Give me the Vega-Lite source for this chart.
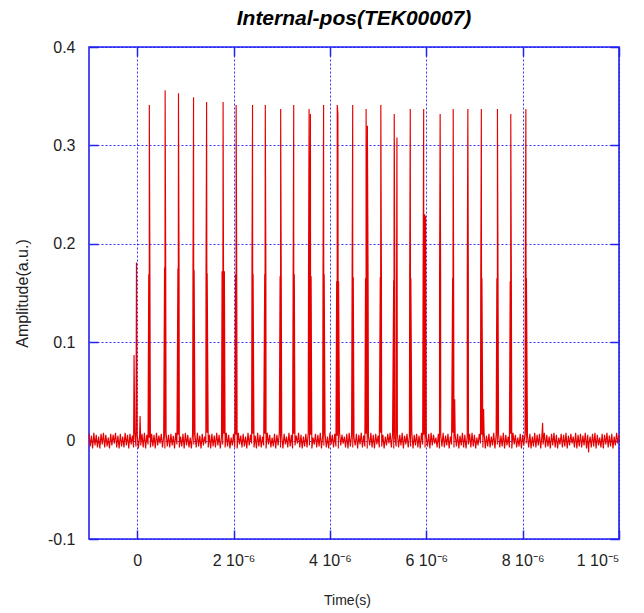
{
  "$schema": "https://vega.github.io/schema/vega-lite/v6.json",
  "width": 530,
  "height": 492,
  "autosize": {"type": "none"},
  "padding": {"left": 89, "top": 47, "right": 25, "bottom": 74},
  "background": "white",
  "title": {
    "text": "Internal-pos(TEK00007)",
    "font": "Liberation Sans",
    "fontSize": 21,
    "fontWeight": "bold",
    "fontStyle": "italic",
    "color": "#000000",
    "anchor": "middle",
    "offset": 10
  },
  "datasets": {
    "trace": [
      {"time_us": -1.000, "amp": 0.007}, {"time_us": -0.975, "amp": -0.006},
      {"time_us": -0.950, "amp": 0.005}, {"time_us": -0.925, "amp": -0.008},
      {"time_us": -0.900, "amp": 0.008}, {"time_us": -0.875, "amp": -0.005},
      {"time_us": -0.850, "amp": 0.006}, {"time_us": -0.825, "amp": -0.007},
      {"time_us": -0.800, "amp": 0.004}, {"time_us": -0.775, "amp": -0.008},
      {"time_us": -0.750, "amp": 0.007}, {"time_us": -0.725, "amp": -0.004},
      {"time_us": -0.700, "amp": 0.008}, {"time_us": -0.675, "amp": -0.007},
      {"time_us": -0.650, "amp": 0.006}, {"time_us": -0.625, "amp": -0.006},
      {"time_us": -0.600, "amp": 0.003}, {"time_us": -0.575, "amp": -0.008},
      {"time_us": -0.550, "amp": 0.007}, {"time_us": -0.525, "amp": -0.005},
      {"time_us": -0.500, "amp": 0.006}, {"time_us": -0.475, "amp": -0.003},
      {"time_us": -0.450, "amp": 0.008}, {"time_us": -0.425, "amp": -0.007},
      {"time_us": -0.400, "amp": 0.005}, {"time_us": -0.375, "amp": -0.008},
      {"time_us": -0.350, "amp": 0.007}, {"time_us": -0.325, "amp": -0.006},
      {"time_us": -0.300, "amp": 0.004}, {"time_us": -0.275, "amp": -0.007},
      {"time_us": -0.250, "amp": 0.008}, {"time_us": -0.225, "amp": -0.005},
      {"time_us": -0.200, "amp": 0.006}, {"time_us": -0.175, "amp": -0.008},
      {"time_us": -0.150, "amp": 0.007}, {"time_us": -0.125, "amp": -0.004},
      {"time_us": -0.100, "amp": 0.005}, {"time_us": -0.075, "amp": -0.007},
      {"time_us": -0.050, "amp": 0.008}, {"time_us": -0.025, "amp": -0.006},
      {"time_us": 0.000, "amp": 0.006}, {"time_us": 0.025, "amp": -0.008},
      {"time_us": 0.050, "amp": 0.004}, {"time_us": 0.075, "amp": -0.005},
      {"time_us": 0.100, "amp": 0.007}, {"time_us": 0.125, "amp": -0.007},
      {"time_us": 0.150, "amp": 0.008}, {"time_us": 0.175, "amp": -0.008},
      {"time_us": 0.200, "amp": 0.006}, {"time_us": 0.225, "amp": -0.004},
      {"time_us": 0.250, "amp": 0.003}, {"time_us": 0.275, "amp": -0.007},
      {"time_us": 0.300, "amp": 0.007}, {"time_us": 0.325, "amp": -0.006},
      {"time_us": 0.350, "amp": 0.006}, {"time_us": 0.375, "amp": -0.008},
      {"time_us": 0.400, "amp": 0.008}, {"time_us": 0.425, "amp": -0.005},
      {"time_us": 0.450, "amp": 0.005}, {"time_us": 0.475, "amp": -0.003},
      {"time_us": 0.500, "amp": 0.007}, {"time_us": 0.525, "amp": -0.007},
      {"time_us": 0.550, "amp": 0.004}, {"time_us": 0.575, "amp": -0.008},
      {"time_us": 0.600, "amp": 0.008}, {"time_us": 0.625, "amp": -0.006},
      {"time_us": 0.650, "amp": 0.006}, {"time_us": 0.675, "amp": -0.007},
      {"time_us": 0.700, "amp": 0.007}, {"time_us": 0.725, "amp": -0.005},
      {"time_us": 0.750, "amp": 0.005}, {"time_us": 0.775, "amp": -0.008},
      {"time_us": 0.800, "amp": 0.008}, {"time_us": 0.825, "amp": -0.004},
      {"time_us": 0.850, "amp": 0.006}, {"time_us": 0.875, "amp": -0.007},
      {"time_us": 0.900, "amp": 0.004}, {"time_us": 0.925, "amp": -0.006},
      {"time_us": 0.950, "amp": 0.007}, {"time_us": 0.975, "amp": -0.008},
      {"time_us": 1.000, "amp": 0.008}, {"time_us": 1.025, "amp": -0.005},
      {"time_us": 1.050, "amp": 0.006}, {"time_us": 1.075, "amp": -0.007},
      {"time_us": 1.100, "amp": 0.003}, {"time_us": 1.125, "amp": -0.008},
      {"time_us": 1.150, "amp": 0.007}, {"time_us": 1.175, "amp": -0.004},
      {"time_us": 1.200, "amp": 0.006}, {"time_us": 1.225, "amp": -0.007},
      {"time_us": 1.250, "amp": 0.008}, {"time_us": 1.275, "amp": -0.006},
      {"time_us": 1.300, "amp": 0.005}, {"time_us": 1.325, "amp": -0.008},
      {"time_us": 1.350, "amp": 0.007}, {"time_us": 1.375, "amp": -0.005},
      {"time_us": 1.400, "amp": 0.004}, {"time_us": 1.425, "amp": -0.003},
      {"time_us": 1.450, "amp": 0.008}, {"time_us": 1.475, "amp": -0.007},
      {"time_us": 1.500, "amp": 0.006}, {"time_us": 1.525, "amp": -0.008},
      {"time_us": 1.550, "amp": 0.007}, {"time_us": 1.575, "amp": -0.006},
      {"time_us": 1.600, "amp": 0.005}, {"time_us": 1.625, "amp": -0.007},
      {"time_us": 1.650, "amp": 0.008}, {"time_us": 1.675, "amp": -0.005},
      {"time_us": 1.700, "amp": 0.006}, {"time_us": 1.725, "amp": -0.008},
      {"time_us": 1.750, "amp": 0.004}, {"time_us": 1.775, "amp": -0.004},
      {"time_us": 1.800, "amp": 0.007}, {"time_us": 1.825, "amp": -0.007},
      {"time_us": 1.850, "amp": 0.008}, {"time_us": 1.875, "amp": -0.006},
      {"time_us": 1.900, "amp": 0.006}, {"time_us": 1.925, "amp": -0.008},
      {"time_us": 1.950, "amp": 0.003}, {"time_us": 1.975, "amp": -0.005},
      {"time_us": 2.000, "amp": 0.007}, {"time_us": 2.025, "amp": -0.007},
      {"time_us": 2.050, "amp": 0.006}, {"time_us": 2.075, "amp": -0.008},
      {"time_us": 2.100, "amp": 0.008}, {"time_us": 2.125, "amp": -0.004},
      {"time_us": 2.150, "amp": 0.005}, {"time_us": 2.175, "amp": -0.007},
      {"time_us": 2.200, "amp": 0.007}, {"time_us": 2.225, "amp": -0.006},
      {"time_us": 2.250, "amp": 0.004}, {"time_us": 2.275, "amp": -0.008},
      {"time_us": 2.300, "amp": 0.008}, {"time_us": 2.325, "amp": -0.005},
      {"time_us": 2.350, "amp": 0.006}, {"time_us": 2.375, "amp": -0.003},
      {"time_us": 2.400, "amp": 0.007}, {"time_us": 2.425, "amp": -0.007},
      {"time_us": 2.450, "amp": 0.005}, {"time_us": 2.475, "amp": -0.008},
      {"time_us": 2.500, "amp": 0.008}, {"time_us": 2.525, "amp": -0.006},
      {"time_us": 2.550, "amp": 0.006}, {"time_us": 2.575, "amp": -0.007},
      {"time_us": 2.600, "amp": 0.004}, {"time_us": 2.625, "amp": -0.005},
      {"time_us": 2.650, "amp": 0.007}, {"time_us": 2.675, "amp": -0.008},
      {"time_us": 2.700, "amp": 0.008}, {"time_us": 2.725, "amp": -0.004},
      {"time_us": 2.750, "amp": 0.006}, {"time_us": 2.775, "amp": -0.007},
      {"time_us": 2.800, "amp": 0.003}, {"time_us": 2.825, "amp": -0.006},
      {"time_us": 2.850, "amp": 0.007}, {"time_us": 2.875, "amp": -0.008},
      {"time_us": 2.900, "amp": 0.006}, {"time_us": 2.925, "amp": -0.005},
      {"time_us": 2.950, "amp": 0.008}, {"time_us": 2.975, "amp": -0.007},
      {"time_us": 3.000, "amp": 0.005}, {"time_us": 3.025, "amp": -0.008},
      {"time_us": 3.050, "amp": 0.007}, {"time_us": 3.075, "amp": -0.004},
      {"time_us": 3.100, "amp": 0.004}, {"time_us": 3.125, "amp": -0.007},
      {"time_us": 3.150, "amp": 0.008}, {"time_us": 3.175, "amp": -0.006},
      {"time_us": 3.200, "amp": 0.006}, {"time_us": 3.225, "amp": -0.008},
      {"time_us": 3.250, "amp": 0.007}, {"time_us": 3.275, "amp": -0.005},
      {"time_us": 3.300, "amp": 0.005}, {"time_us": 3.325, "amp": -0.003},
      {"time_us": 3.350, "amp": 0.008}, {"time_us": 3.375, "amp": -0.007},
      {"time_us": 3.400, "amp": 0.006}, {"time_us": 3.425, "amp": -0.008},
      {"time_us": 3.450, "amp": 0.004}, {"time_us": 3.475, "amp": -0.006},
      {"time_us": 3.500, "amp": 0.007}, {"time_us": 3.525, "amp": -0.007},
      {"time_us": 3.550, "amp": 0.008}, {"time_us": 3.575, "amp": -0.005},
      {"time_us": 3.600, "amp": 0.006}, {"time_us": 3.625, "amp": -0.008},
      {"time_us": 3.650, "amp": 0.003}, {"time_us": 3.675, "amp": -0.004},
      {"time_us": 3.700, "amp": 0.007}, {"time_us": 3.725, "amp": -0.007},
      {"time_us": 3.750, "amp": 0.006}, {"time_us": 3.775, "amp": -0.006},
      {"time_us": 3.800, "amp": 0.008}, {"time_us": 3.825, "amp": -0.008},
      {"time_us": 3.850, "amp": 0.005}, {"time_us": 3.875, "amp": -0.005},
      {"time_us": 3.900, "amp": 0.007}, {"time_us": 3.925, "amp": -0.007},
      {"time_us": 3.950, "amp": 0.004}, {"time_us": 3.975, "amp": -0.008},
      {"time_us": 4.000, "amp": 0.008}, {"time_us": 4.025, "amp": -0.004},
      {"time_us": 4.050, "amp": 0.006}, {"time_us": 4.075, "amp": -0.007},
      {"time_us": 4.100, "amp": 0.007}, {"time_us": 4.125, "amp": -0.006},
      {"time_us": 4.150, "amp": 0.005}, {"time_us": 4.175, "amp": -0.008},
      {"time_us": 4.200, "amp": 0.008}, {"time_us": 4.225, "amp": -0.005},
      {"time_us": 4.250, "amp": 0.006}, {"time_us": 4.275, "amp": -0.003},
      {"time_us": 4.300, "amp": 0.004}, {"time_us": 4.325, "amp": -0.007},
      {"time_us": 4.350, "amp": 0.007}, {"time_us": 4.375, "amp": -0.008},
      {"time_us": 4.400, "amp": 0.008}, {"time_us": 4.425, "amp": -0.006},
      {"time_us": 4.450, "amp": 0.006}, {"time_us": 4.475, "amp": -0.007},
      {"time_us": 4.500, "amp": 0.003}, {"time_us": 4.525, "amp": -0.005},
      {"time_us": 4.550, "amp": 0.007}, {"time_us": 4.575, "amp": -0.008},
      {"time_us": 4.600, "amp": 0.006}, {"time_us": 4.625, "amp": -0.004},
      {"time_us": 4.650, "amp": 0.008}, {"time_us": 4.675, "amp": -0.007},
      {"time_us": 4.700, "amp": 0.005}, {"time_us": 4.725, "amp": -0.006},
      {"time_us": 4.750, "amp": 0.007}, {"time_us": 4.775, "amp": -0.008},
      {"time_us": 4.800, "amp": 0.004}, {"time_us": 4.825, "amp": -0.005},
      {"time_us": 4.850, "amp": 0.008}, {"time_us": 4.875, "amp": -0.007},
      {"time_us": 4.900, "amp": 0.006}, {"time_us": 4.925, "amp": -0.008},
      {"time_us": 4.950, "amp": 0.007}, {"time_us": 4.975, "amp": -0.004},
      {"time_us": 5.000, "amp": 0.005}, {"time_us": 5.025, "amp": -0.007},
      {"time_us": 5.050, "amp": 0.008}, {"time_us": 5.075, "amp": -0.006},
      {"time_us": 5.100, "amp": 0.006}, {"time_us": 5.125, "amp": -0.008},
      {"time_us": 5.150, "amp": 0.004}, {"time_us": 5.175, "amp": -0.005},
      {"time_us": 5.200, "amp": 0.007}, {"time_us": 5.225, "amp": -0.003},
      {"time_us": 5.250, "amp": 0.008}, {"time_us": 5.275, "amp": -0.007},
      {"time_us": 5.300, "amp": 0.006}, {"time_us": 5.325, "amp": -0.008},
      {"time_us": 5.350, "amp": 0.003}, {"time_us": 5.375, "amp": -0.006},
      {"time_us": 5.400, "amp": 0.007}, {"time_us": 5.425, "amp": -0.007},
      {"time_us": 5.450, "amp": 0.006}, {"time_us": 5.475, "amp": -0.005},
      {"time_us": 5.500, "amp": 0.008}, {"time_us": 5.525, "amp": -0.008},
      {"time_us": 5.550, "amp": 0.005}, {"time_us": 5.575, "amp": -0.004},
      {"time_us": 5.600, "amp": 0.007}, {"time_us": 5.625, "amp": -0.007},
      {"time_us": 5.650, "amp": 0.004}, {"time_us": 5.675, "amp": -0.006},
      {"time_us": 5.700, "amp": 0.008}, {"time_us": 5.725, "amp": -0.008},
      {"time_us": 5.750, "amp": 0.006}, {"time_us": 5.775, "amp": -0.005},
      {"time_us": 5.800, "amp": 0.007}, {"time_us": 5.825, "amp": -0.007},
      {"time_us": 5.850, "amp": 0.005}, {"time_us": 5.875, "amp": -0.008},
      {"time_us": 5.900, "amp": 0.008}, {"time_us": 5.925, "amp": -0.004},
      {"time_us": 5.950, "amp": 0.006}, {"time_us": 5.975, "amp": -0.007},
      {"time_us": 6.000, "amp": 0.004}, {"time_us": 6.025, "amp": -0.006},
      {"time_us": 6.050, "amp": 0.007}, {"time_us": 6.075, "amp": -0.008},
      {"time_us": 6.100, "amp": 0.008}, {"time_us": 6.125, "amp": -0.005},
      {"time_us": 6.150, "amp": 0.006}, {"time_us": 6.175, "amp": -0.003},
      {"time_us": 6.200, "amp": 0.003}, {"time_us": 6.225, "amp": -0.007},
      {"time_us": 6.250, "amp": 0.007}, {"time_us": 6.275, "amp": -0.008},
      {"time_us": 6.300, "amp": 0.006}, {"time_us": 6.325, "amp": -0.006},
      {"time_us": 6.350, "amp": 0.008}, {"time_us": 6.375, "amp": -0.007},
      {"time_us": 6.400, "amp": 0.005}, {"time_us": 6.425, "amp": -0.005},
      {"time_us": 6.450, "amp": 0.007}, {"time_us": 6.475, "amp": -0.008},
      {"time_us": 6.500, "amp": 0.004}, {"time_us": 6.525, "amp": -0.004},
      {"time_us": 6.550, "amp": 0.008}, {"time_us": 6.575, "amp": -0.007},
      {"time_us": 6.600, "amp": 0.006}, {"time_us": 6.625, "amp": -0.006},
      {"time_us": 6.650, "amp": 0.007}, {"time_us": 6.675, "amp": -0.008},
      {"time_us": 6.700, "amp": 0.005}, {"time_us": 6.725, "amp": -0.005},
      {"time_us": 6.750, "amp": 0.008}, {"time_us": 6.775, "amp": -0.007},
      {"time_us": 6.800, "amp": 0.006}, {"time_us": 6.825, "amp": -0.008},
      {"time_us": 6.850, "amp": 0.004}, {"time_us": 6.875, "amp": -0.004},
      {"time_us": 6.900, "amp": 0.007}, {"time_us": 6.925, "amp": -0.007},
      {"time_us": 6.950, "amp": 0.008}, {"time_us": 6.975, "amp": -0.006},
      {"time_us": 7.000, "amp": 0.006}, {"time_us": 7.025, "amp": -0.008},
      {"time_us": 7.050, "amp": 0.003}, {"time_us": 7.075, "amp": -0.005},
      {"time_us": 7.100, "amp": 0.007}, {"time_us": 7.125, "amp": -0.003},
      {"time_us": 7.150, "amp": 0.006}, {"time_us": 7.175, "amp": -0.007},
      {"time_us": 7.200, "amp": 0.008}, {"time_us": 7.225, "amp": -0.008},
      {"time_us": 7.250, "amp": 0.005}, {"time_us": 7.275, "amp": -0.006},
      {"time_us": 7.300, "amp": 0.007}, {"time_us": 7.325, "amp": -0.007},
      {"time_us": 7.350, "amp": 0.004}, {"time_us": 7.375, "amp": -0.005},
      {"time_us": 7.400, "amp": 0.008}, {"time_us": 7.425, "amp": -0.008},
      {"time_us": 7.450, "amp": 0.006}, {"time_us": 7.475, "amp": -0.004},
      {"time_us": 7.500, "amp": 0.007}, {"time_us": 7.525, "amp": -0.007},
      {"time_us": 7.550, "amp": 0.005}, {"time_us": 7.575, "amp": -0.006},
      {"time_us": 7.600, "amp": 0.008}, {"time_us": 7.625, "amp": -0.008},
      {"time_us": 7.650, "amp": 0.006}, {"time_us": 7.675, "amp": -0.005},
      {"time_us": 7.700, "amp": 0.004}, {"time_us": 7.725, "amp": -0.007},
      {"time_us": 7.750, "amp": 0.007}, {"time_us": 7.775, "amp": -0.008},
      {"time_us": 7.800, "amp": 0.008}, {"time_us": 7.825, "amp": -0.004},
      {"time_us": 7.850, "amp": 0.006}, {"time_us": 7.875, "amp": -0.007},
      {"time_us": 7.900, "amp": 0.003}, {"time_us": 7.925, "amp": -0.006},
      {"time_us": 7.950, "amp": 0.007}, {"time_us": 7.975, "amp": -0.008},
      {"time_us": 8.000, "amp": 0.006}, {"time_us": 8.025, "amp": -0.005},
      {"time_us": 8.050, "amp": 0.008}, {"time_us": 8.075, "amp": -0.003},
      {"time_us": 8.100, "amp": 0.005}, {"time_us": 8.125, "amp": -0.007},
      {"time_us": 8.150, "amp": 0.007}, {"time_us": 8.175, "amp": -0.008},
      {"time_us": 8.200, "amp": 0.004}, {"time_us": 8.225, "amp": -0.006},
      {"time_us": 8.250, "amp": 0.008}, {"time_us": 8.275, "amp": -0.007},
      {"time_us": 8.300, "amp": 0.006}, {"time_us": 8.325, "amp": -0.005},
      {"time_us": 8.350, "amp": 0.007}, {"time_us": 8.375, "amp": -0.008},
      {"time_us": 8.400, "amp": 0.005}, {"time_us": 8.425, "amp": -0.004},
      {"time_us": 8.450, "amp": 0.008}, {"time_us": 8.475, "amp": -0.007},
      {"time_us": 8.500, "amp": 0.006}, {"time_us": 8.525, "amp": -0.006},
      {"time_us": 8.550, "amp": 0.004}, {"time_us": 8.575, "amp": -0.008},
      {"time_us": 8.600, "amp": 0.007}, {"time_us": 8.625, "amp": -0.005},
      {"time_us": 8.650, "amp": 0.008}, {"time_us": 8.675, "amp": -0.007},
      {"time_us": 8.700, "amp": 0.006}, {"time_us": 8.725, "amp": -0.008},
      {"time_us": 8.750, "amp": 0.003}, {"time_us": 8.775, "amp": -0.004},
      {"time_us": 8.800, "amp": 0.007}, {"time_us": 8.825, "amp": -0.007},
      {"time_us": 8.850, "amp": 0.006}, {"time_us": 8.875, "amp": -0.006},
      {"time_us": 8.900, "amp": 0.008}, {"time_us": 8.925, "amp": -0.008},
      {"time_us": 8.950, "amp": 0.005}, {"time_us": 8.975, "amp": -0.005},
      {"time_us": 9.000, "amp": 0.007}, {"time_us": 9.025, "amp": -0.003},
      {"time_us": 9.050, "amp": 0.004}, {"time_us": 9.075, "amp": -0.007},
      {"time_us": 9.100, "amp": 0.008}, {"time_us": 9.125, "amp": -0.008},
      {"time_us": 9.150, "amp": 0.006}, {"time_us": 9.175, "amp": -0.006},
      {"time_us": 9.200, "amp": 0.007}, {"time_us": 9.225, "amp": -0.007},
      {"time_us": 9.250, "amp": 0.005}, {"time_us": 9.275, "amp": -0.005},
      {"time_us": 9.300, "amp": 0.008}, {"time_us": 9.325, "amp": -0.008},
      {"time_us": 9.350, "amp": 0.006}, {"time_us": 9.375, "amp": -0.004},
      {"time_us": 9.400, "amp": 0.004}, {"time_us": 9.425, "amp": -0.007},
      {"time_us": 9.450, "amp": 0.007}, {"time_us": 9.475, "amp": -0.006},
      {"time_us": 9.500, "amp": 0.008}, {"time_us": 9.525, "amp": -0.008},
      {"time_us": 9.550, "amp": 0.006}, {"time_us": 9.575, "amp": -0.005},
      {"time_us": 9.600, "amp": 0.003}, {"time_us": 9.625, "amp": -0.007},
      {"time_us": 9.650, "amp": 0.007}, {"time_us": 9.675, "amp": -0.008},
      {"time_us": 9.700, "amp": 0.006}, {"time_us": 9.725, "amp": -0.004},
      {"time_us": 9.750, "amp": 0.008}, {"time_us": 9.775, "amp": -0.007},
      {"time_us": 9.800, "amp": 0.005}, {"time_us": 9.825, "amp": -0.006},
      {"time_us": 9.850, "amp": 0.007}, {"time_us": 9.875, "amp": -0.008},
      {"time_us": 9.900, "amp": 0.004}, {"time_us": 9.925, "amp": -0.005},
      {"time_us": 9.950, "amp": 0.008}, {"time_us": 9.975, "amp": -0.003},
      {"time_us": 10.000, "amp": 0.006},

      {"time_us": -0.065, "amp": 0.087}, {"time_us": -0.015, "amp": 0.181}, {"time_us": 0.06, "amp": 0.025},
      {"time_us": 0.240, "amp": 0.169}, {"time_us": 0.252, "amp": 0.341}, {"time_us": 0.264, "amp": 0.169},
      {"time_us": 0.568, "amp": 0.176}, {"time_us": 0.580, "amp": 0.356}, {"time_us": 0.592, "amp": 0.176},
      {"time_us": 0.845, "amp": 0.175}, {"time_us": 0.857, "amp": 0.353}, {"time_us": 0.869, "amp": 0.175},
      {"time_us": 1.158, "amp": 0.173}, {"time_us": 1.170, "amp": 0.349}, {"time_us": 1.182, "amp": 0.173},
      {"time_us": 1.429, "amp": 0.170}, {"time_us": 1.441, "amp": 0.344}, {"time_us": 1.453, "amp": 0.170},
      {"time_us": 1.762, "amp": 0.172}, {"time_us": 1.783, "amp": 0.344}, {"time_us": 1.810, "amp": 0.172},
      {"time_us": 2.042, "amp": 0.169}, {"time_us": 2.054, "amp": 0.341}, {"time_us": 2.066, "amp": 0.169},
      {"time_us": 2.382, "amp": 0.169}, {"time_us": 2.394, "amp": 0.341}, {"time_us": 2.406, "amp": 0.169},
      {"time_us": 2.647, "amp": 0.169}, {"time_us": 2.659, "amp": 0.341}, {"time_us": 2.671, "amp": 0.169},
      {"time_us": 2.966, "amp": 0.167}, {"time_us": 2.978, "amp": 0.337}, {"time_us": 2.990, "amp": 0.167},
      {"time_us": 3.237, "amp": 0.169}, {"time_us": 3.249, "amp": 0.341}, {"time_us": 3.261, "amp": 0.169},
      {"time_us": 3.556, "amp": 0.167}, {"time_us": 3.568, "amp": 0.337}, {"time_us": 3.596, "amp": 0.332}, {"time_us": 3.610, "amp": 0.167},
      {"time_us": 3.857, "amp": 0.169}, {"time_us": 3.869, "amp": 0.341}, {"time_us": 3.881, "amp": 0.169},
      {"time_us": 4.140, "amp": 0.162}, {"time_us": 4.152, "amp": 0.341}, {"time_us": 4.166, "amp": 0.332}, {"time_us": 4.180, "amp": 0.162},
      {"time_us": 4.461, "amp": 0.166}, {"time_us": 4.473, "amp": 0.341}, {"time_us": 4.485, "amp": 0.166},
      {"time_us": 4.739, "amp": 0.165}, {"time_us": 4.751, "amp": 0.337}, {"time_us": 4.778, "amp": 0.320}, {"time_us": 4.793, "amp": 0.156},
      {"time_us": 5.045, "amp": 0.166}, {"time_us": 5.057, "amp": 0.341}, {"time_us": 5.069, "amp": 0.166},
      {"time_us": 5.323, "amp": 0.163}, {"time_us": 5.335, "amp": 0.332}, {"time_us": 5.347, "amp": 0.163}, {"time_us": 5.391, "amp": 0.308},
      {"time_us": 5.656, "amp": 0.165}, {"time_us": 5.668, "amp": 0.337}, {"time_us": 5.680, "amp": 0.165},
      {"time_us": 5.934, "amp": 0.165}, {"time_us": 5.946, "amp": 0.337}, {"time_us": 5.970, "amp": 0.230}, {"time_us": 5.985, "amp": 0.228},
      {"time_us": 6.276, "amp": 0.162}, {"time_us": 6.288, "amp": 0.332}, {"time_us": 6.298, "amp": 0.162},
      {"time_us": 6.547, "amp": 0.165}, {"time_us": 6.559, "amp": 0.337}, {"time_us": 6.571, "amp": 0.093}, {"time_us": 6.590, "amp": 0.042},
      {"time_us": 6.851, "amp": 0.165}, {"time_us": 6.863, "amp": 0.337}, {"time_us": 6.873, "amp": 0.165},
      {"time_us": 7.131, "amp": 0.165}, {"time_us": 7.143, "amp": 0.337}, {"time_us": 7.155, "amp": 0.165}, {"time_us": 7.190, "amp": 0.032},
      {"time_us": 7.465, "amp": 0.165}, {"time_us": 7.477, "amp": 0.337}, {"time_us": 7.489, "amp": 0.165},
      {"time_us": 7.742, "amp": 0.162}, {"time_us": 7.754, "amp": 0.332}, {"time_us": 7.766, "amp": 0.162},
      {"time_us": 8.055, "amp": 0.165}, {"time_us": 8.067, "amp": 0.337}, {"time_us": 8.079, "amp": 0.165},
      {"time_us": 8.415, "amp": 0.018}, {"time_us": 9.37, "amp": -0.012}
    ]
  },
  "data": {"name": "trace"},
  "layer": [
    {
      "mark": {"type": "line", "color": "#e60000", "strokeWidth": 1.15},
      "encoding": {
        "x": {
          "field": "time_us",
          "type": "quantitative",
          "scale": {"domain": [-1, 10], "nice": false, "zero": false},
          "axis": {
            "orient": "bottom",
            "values": [0, 2, 4, 6, 8, 10],
            "labelExpr": "datum.value == 0 ? '0' : datum.value == 10 ? '1 10⁻⁵' : datum.value + ' 10⁻⁶'",
            "title": "Time(s)",
            "titleX": 258,
            "titleY": 61,
            "titleBaseline": "middle",
            "grid": true,
            "gridColor": "#1010ff",
            "gridOpacity": 0.85,
            "gridDash": [2, 2],
            "gridWidth": 1,
            "domain": false,
            "ticks": true,
            "tickColor": "#2222ee",
            "tickSize": -9,
            "tickWidth": 1.5,
            "labelPadding": 22,
            "labelFontSize": 16,
            "labelColor": "#222222",
            "labelFont": "Liberation Sans",
            "titleFont": "Liberation Sans",
            "titleFontSize": 14,
            "titleFontWeight": "normal",
            "titleColor": "#222222"
          }
        },
        "y": {
          "field": "amp",
          "type": "quantitative",
          "scale": {"domain": [-0.1, 0.4], "nice": false, "zero": false},
          "axis": {
            "orient": "left",
            "values": [-0.1, 0, 0.1, 0.2, 0.3, 0.4],
            "labelExpr": "datum.value == 0 ? '0' : (datum.value < 0 ? '-' : '') + format(abs(datum.value), '.1f')",
            "title": "Amplitude(a.u.)",
            "titleX": -67,
            "titleY": 246,
            "titleAngle": -90,
            "titleAlign": "center",
            "titleBaseline": "middle",
            "grid": true,
            "gridColor": "#1010ff",
            "gridOpacity": 0.85,
            "gridDash": [2, 2],
            "gridWidth": 1,
            "domain": false,
            "ticks": true,
            "tickColor": "#2222ee",
            "tickSize": -9,
            "tickWidth": 1.5,
            "labelPadding": 23,
            "labelFontSize": 16,
            "labelColor": "#222222",
            "labelFont": "Liberation Sans",
            "titleFont": "Liberation Sans",
            "titleFontSize": 16,
            "titleFontWeight": "normal",
            "titleColor": "#222222"
          }
        }
      }
    },
    {
      "mark": {"type": "point", "opacity": 0},
      "encoding": {
        "x": {
          "field": "time_us",
          "type": "quantitative",
          "scale": {"domain": [-1, 10], "nice": false, "zero": false},
          "axis": {
            "orient": "top",
            "values": [0, 2, 4, 6, 8, 10],
            "labels": false,
            "title": null,
            "grid": false,
            "domain": false,
            "tickColor": "#2222ee",
            "tickSize": -9,
            "tickWidth": 1.5
          }
        },
        "y": {
          "field": "amp",
          "type": "quantitative",
          "scale": {"domain": [-0.1, 0.4], "nice": false, "zero": false},
          "axis": {
            "orient": "right",
            "values": [-0.1, 0, 0.1, 0.2, 0.3, 0.4],
            "labels": false,
            "title": null,
            "grid": false,
            "domain": false,
            "tickColor": "#2222ee",
            "tickSize": -9,
            "tickWidth": 1.5
          }
        }
      }
    }
  ],
  "resolve": {
    "scale": {"x": "independent", "y": "independent"},
    "axis": {"x": "independent", "y": "independent"}
  },
  "config": {
    "font": "Liberation Sans",
    "view": {"stroke": "#2222ee", "strokeWidth": 1.6}
  }
}
